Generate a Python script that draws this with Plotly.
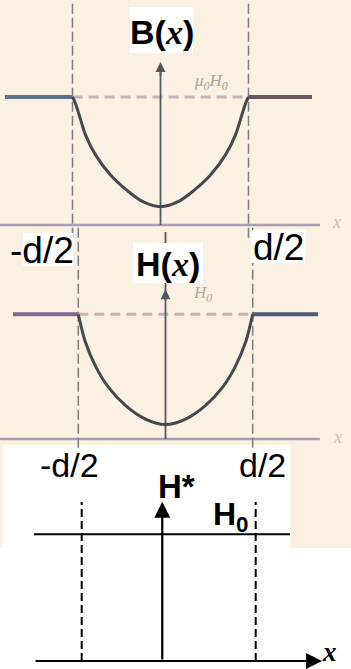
import plotly.graph_objects as go

W, H = 351, 669

# ---------------- data ----------------
# x is measured in units of the slab thickness d; the slab spans -d/2 .. d/2
HALF_D = 0.5

# induction B(x) / (mu0 H0) inside the slab
B_X = [-0.5, -0.486, -0.46, -0.425, -0.37, -0.284, -0.19, -0.097, 0.0,
       0.097, 0.19, 0.284, 0.37, 0.425, 0.46, 0.486, 0.5]
B_VAL = [1.0, 0.96, 0.85, 0.70, 0.55, 0.39, 0.27, 0.18, 0.143,
         0.18, 0.27, 0.39, 0.55, 0.70, 0.85, 0.96, 1.0]

# field H(x) / H0 inside the slab
H_X = [-0.5, -0.485, -0.46, -0.40, -0.33, -0.23, -0.115, 0.0,
       0.115, 0.23, 0.33, 0.40, 0.46, 0.485, 0.5]
H_VAL = [1.0, 0.91, 0.78, 0.58, 0.42, 0.27, 0.16, 0.116,
         0.16, 0.27, 0.42, 0.58, 0.78, 0.91, 1.0]

# constant outside level (mu0 H0, H0, H*=H0)
LEVEL = 1.0
# outer extent of the drawn field levels and x axes
B_OUT = (-0.884, 0.861)
B_AXIS = (-0.912, 0.906)
H_OUT = (-0.874, 0.874)
H_AXIS = (-0.95, 0.885)
S_OUT = (-0.774, 0.697)
S_AXIS = (-0.774, 0.881)
S_AXIS_X = -0.037          # position of the H* axis

# ---------------- frames ----------------
# pixel placement of each panel: centre x, px per d, baseline y, px per unit
FRAMES = {
    1: dict(cx=160.5, sx=176.0, zy=225.0, sy=128.0),
    2: dict(cx=165.5, sx=174.4, zy=439.0, sy=124.7),
    3: dict(cx=168.7, sx=174.0, zy=661.0, sy=126.7),
}

CREAM = "#fbf1e2"
INK = "#46484f"


def px(x):
    return x / W


def py(y):
    return 1 - y / H


fig = go.Figure()


def ax_names(k):
    return ("x" if k == 1 else f"x{k}", "y" if k == 1 else f"y{k}")


def line(k, xs, ys, color, width, dash="solid", shape="linear"):
    xa, ya = ax_names(k)
    fig.add_trace(go.Scatter(
        x=xs, y=ys, mode="lines", xaxis=xa, yaxis=ya,
        line=dict(color=color, width=width, dash=dash, shape=shape),
        hoverinfo="skip", showlegend=False, cliponaxis=False))


def arrow(k, x0, y0, x1, y1, color, width, size):
    xa, ya = ax_names(k)
    fig.add_annotation(
        x=x1, y=y1, ax=x0, ay=y0, xref=xa, yref=ya, axref=xa, ayref=ya,
        text="", showarrow=True, arrowhead=2, arrowsize=size,
        arrowwidth=width, arrowcolor=color, standoff=0, startstandoff=0)


# ---------- panel 1 : B(x) ----------
line(1, list(B_AXIS), [0, 0], "#a79fb6", 2.5)
line(1, [-HALF_D, -HALF_D], [-0.1, 1.74], "#7b7b82", 1.5, "10px,4px")
line(1, [HALF_D, HALF_D], [-0.1, 1.74], "#7b7b82", 1.5, "10px,4px")
line(1, [-HALF_D, HALF_D], [LEVEL, LEVEL], "#bdb4bb", 3, "10px,6px")
line(1, [B_OUT[0], -HALF_D], [LEVEL, LEVEL], "#5c7088", 4)
line(1, [HALF_D, B_OUT[1]], [LEVEL, LEVEL], "#6b5662", 4)
line(1, [0, 0], [0, 1.2], "#55575e", 1.8)
arrow(1, 0, 1.15, 0, 1.273, "#55575e", 1.8, 1.1)
line(1, B_X, B_VAL, INK, 3, shape="spline")

# ---------- panel 2 : H(x) ----------
line(2, list(H_AXIS), [0, 0], "#a79fb6", 2.5)
line(2, [-HALF_D, -HALF_D], [-0.07, 1.7], "#7b7b82", 1.5, "10px,4px")
line(2, [HALF_D, HALF_D], [-0.07, 1.7], "#7b7b82", 1.5, "10px,4px")
line(2, [-HALF_D, HALF_D], [LEVEL, LEVEL], "#d4aeb0", 3, "10px,6px")
line(2, [H_OUT[0], -HALF_D], [LEVEL, LEVEL], "#776a8c", 4)
line(2, [HALF_D, H_OUT[1]], [LEVEL, LEVEL], "#4b5a78", 4)
line(2, [0, 0], [0, 1.66], "#55575e", 1.8)
arrow(2, 0, 1.1, 0, 1.2, "#55575e", 1.8, 1.1)
line(2, H_X, H_VAL, INK, 3, shape="spline")

# ---------- panel 3 : H* ----------
line(3, [-HALF_D, -HALF_D], [0, 1.255], "black", 2, "8px,4px")
line(3, [HALF_D, HALF_D], [0, 1.255], "black", 2, "8px,4px")
line(3, list(S_OUT), [LEVEL, LEVEL], "black", 2)
arrow(3, S_AXIS[0], 0, S_AXIS[1], 0, "black", 2.2, 1.45)
arrow(3, S_AXIS_X, 0, S_AXIS_X, 1.257, "black", 2.2, 1.45)

# ---------------- axes ----------------
for k, f in FRAMES.items():
    xr = [-f["cx"] / f["sx"], (W - f["cx"]) / f["sx"]]
    yr = [(f["zy"] - H) / f["sy"], f["zy"] / f["sy"]]
    xa = "xaxis" if k == 1 else f"xaxis{k}"
    ya = "yaxis" if k == 1 else f"yaxis{k}"
    fig.update_layout({
        xa: dict(domain=[0, 1], range=xr, visible=False, fixedrange=True,
                 anchor="y" if k == 1 else f"y{k}"),
        ya: dict(domain=[0, 1], range=yr, visible=False, fixedrange=True,
                 anchor="x" if k == 1 else f"x{k}"),
    })

# ---------------- background and label boxes ----------------
def rect(x0, y0, x1, y1, color, layer="below"):
    fig.add_shape(type="rect", xref="paper", yref="paper",
                  x0=px(x0), x1=px(x1), y0=py(y1), y1=py(y0),
                  fillcolor=color, line=dict(width=0), layer=layer)


rect(0, 0, W, 445, CREAM)
rect(290, 445, W, 548, CREAM)
rect(0, 445, 3, 548, CREAM)

rect(130, 7, 193, 53, "white", "above")      # B(x)
rect(23, 233, 73, 266, "white", "above")     # -d/2
rect(251, 230, 305, 263, "white", "above")   # d/2
rect(133, 243, 203, 283, "white", "above")   # H(x)

SANS = "Liberation Sans, Arial, sans-serif"
SERIF = "Liberation Serif, Times New Roman, serif"


def text(s, x, y, size, color="black", family=SANS, xanchor="center"):
    fig.add_annotation(text=s, x=px(x), y=py(y), xref="paper", yref="paper",
                       showarrow=False, xanchor=xanchor, yanchor="middle",
                       font=dict(family=family, size=size, color=color))


ITX = '<span style="font-family:Liberation Serif"><i>x</i></span>'

text(f"<b>B({ITX})</b>", 161.5, 32, 34)
text(f"<b>H({ITX})</b>", 168, 264, 34)
text("-d/2", 41.5, 250, 37)
text("d/2", 278.5, 247, 37)

# faint printed labels of the original drawing
text("<i>μ<sub>0</sub>H<sub>0</sub></i>", 211, 82, 17, "#aaa296", SERIF)
text("<i>H<sub>0</sub></i>", 202, 294, 17, "#b0a89c", SERIF)
text("<i>x</i>", 336, 222, 18, "#c9c0b6", SERIF)
text("<i>x</i>", 337, 437, 18, "#c9c0b6", SERIF)

# lower panel labels
text("<b>H*</b>", 176, 487, 33)
text("-d/2", 69, 465, 34)
text("d/2", 262, 465, 34)
text("<b>H<sub>0</sub></b>", 211, 516, 32, xanchor="left")
text("<b><i>x</i></b>", 329, 652, 27, family=SERIF)

fig.update_layout(
    width=W, height=H, margin=dict(l=0, r=0, t=0, b=0),
    paper_bgcolor="white", plot_bgcolor="rgba(0,0,0,0)",
    showlegend=False,
)

fig.write_html("out.html")
